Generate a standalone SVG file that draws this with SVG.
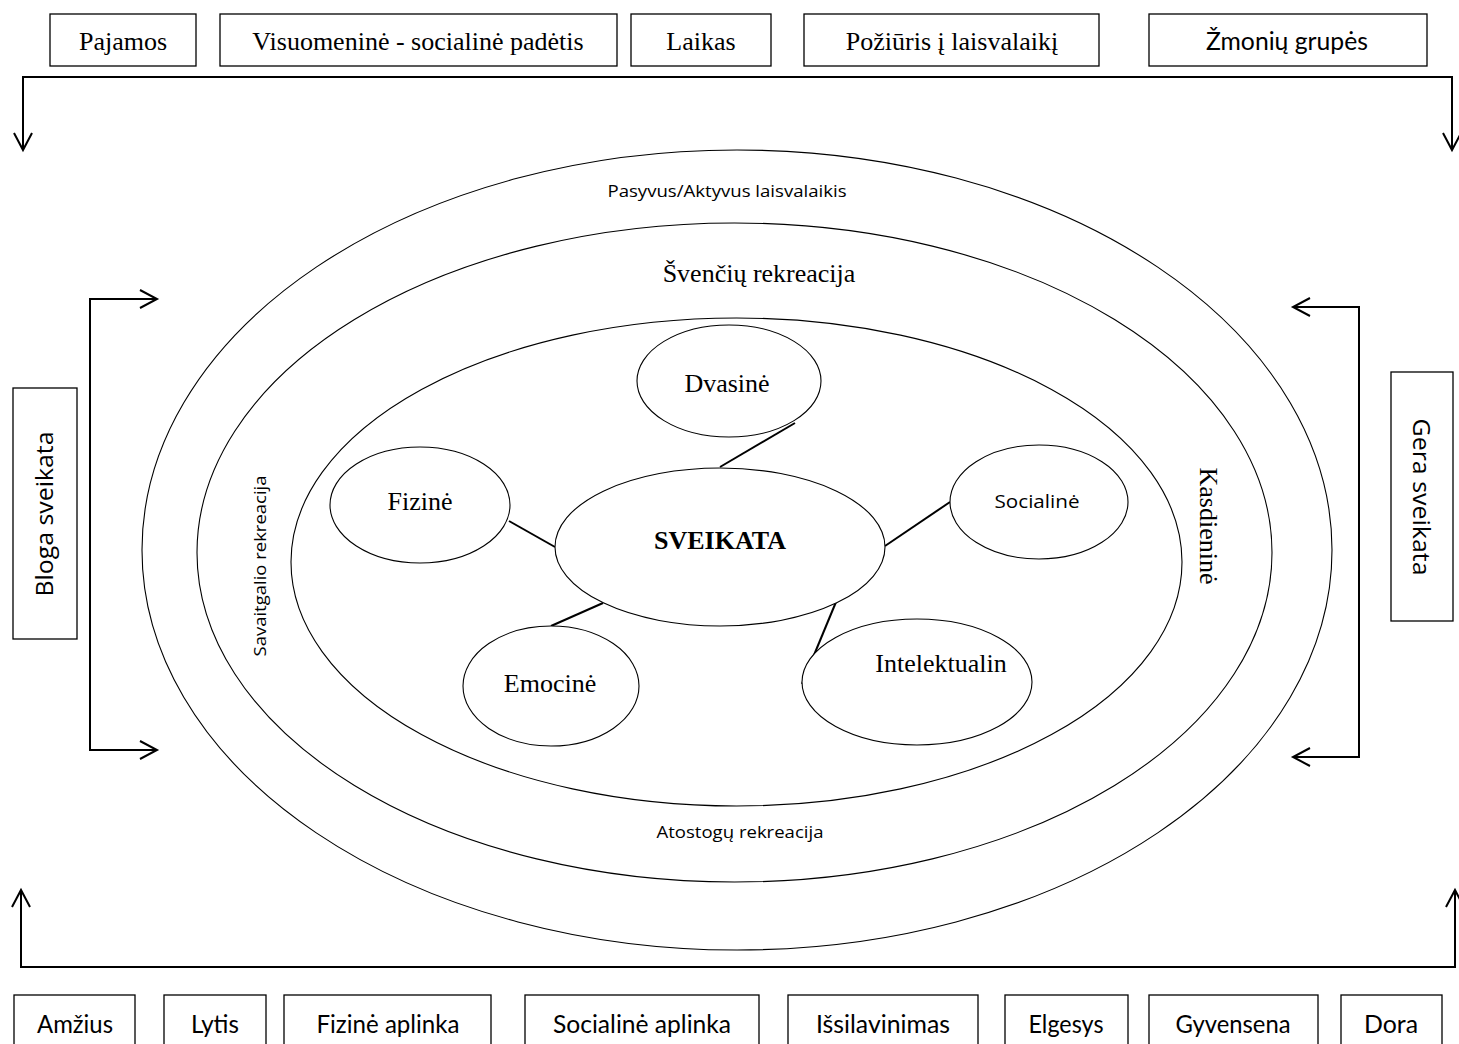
<svg xmlns="http://www.w3.org/2000/svg" width="1459" height="1044" viewBox="0 0 1459 1044">
  <style>
    .box { fill: #fff; stroke: #000; stroke-width: 1.3; }
    .ring { fill: none; stroke: #000; stroke-width: 1.1; }
    .bub { fill: #fff; stroke: #000; stroke-width: 1.1; }
    .flow { fill: none; stroke: #000; stroke-width: 2; }
    .link { stroke: #000; stroke-width: 2; }
    .tnr { font-family: "Liberation Serif", "Times New Roman", serif; font-size: 26px; fill: #000; text-anchor: middle; }
    .cal { font-family: Lato, "Liberation Sans", sans-serif; font-size: 25px; fill: #000; text-anchor: middle; }
    .seg { font-family: "Open Sans", "Liberation Sans", sans-serif; fill: #000; text-anchor: middle; }
  </style>
  <defs>
    <marker id="ah" viewBox="-19 -11 22 22" refX="0" refY="0" markerWidth="22" markerHeight="22" markerUnits="userSpaceOnUse" orient="auto-start-reverse">
      <path d="M-17,-9 L0,0 L-17,9" fill="none" stroke="#000" stroke-width="2"/>
    </marker>
  </defs>
  <rect width="1459" height="1044" fill="#fff"/>

  <!-- leisure rings -->
  <g id="ring-outer">
    <ellipse class="ring" cx="737" cy="550" rx="595" ry="400"/>
    <text class="seg" x="727" y="197" font-size="16" textLength="239" lengthAdjust="spacingAndGlyphs">Pasyvus/Aktyvus laisvalaikis</text>
  </g>
  <g id="ring-middle">
    <ellipse class="ring" cx="734.5" cy="552.5" rx="537.5" ry="329.5"/>
    <text class="tnr" x="759" y="282">Švenčių rekreacija</text>
    <text class="seg" x="740" y="838" font-size="17" textLength="167" lengthAdjust="spacingAndGlyphs">Atostogų rekreacija</text>
    <text class="seg" transform="translate(266,566) rotate(-90)" font-size="17" textLength="181" lengthAdjust="spacingAndGlyphs">Savaitgalio rekreacija</text>
  </g>
  <g id="ring-inner">
    <ellipse class="ring" cx="736.5" cy="562" rx="445.5" ry="244"/>
    <text class="tnr" transform="translate(1200,526) rotate(90)">Kasdieninė</text>
  </g>

  <!-- connectors -->
  <g id="connectors">
    <path class="flow" d="M23,150 V77 H1452 V150" marker-start="url(#ah)" marker-end="url(#ah)"/>
    <path class="flow" d="M21,890 V967 H1455 V890" marker-start="url(#ah)" marker-end="url(#ah)"/>
    <path class="flow" d="M157,299 H90 V750 H157" marker-start="url(#ah)" marker-end="url(#ah)"/>
    <path class="flow" d="M1293,307 H1359 V757 H1293" marker-start="url(#ah)" marker-end="url(#ah)"/>
    <line class="link" x1="795" y1="423" x2="720" y2="467"/>
    <line class="link" x1="509" y1="521" x2="555" y2="547"/>
    <line class="link" x1="603" y1="603" x2="551" y2="626"/>
    <line class="link" x1="885" y1="546" x2="950" y2="502"/>
    <line class="link" x1="836" y1="602" x2="802" y2="684"/>
  </g>

  <!-- health dimensions -->
  <g id="node-sveikata">
    <ellipse class="bub" cx="720" cy="547" rx="165" ry="79"/>
    <text class="tnr" x="720" y="549" font-weight="bold">SVEIKATA</text>
  </g>
  <g id="node-dvasine">
    <ellipse class="bub" cx="729" cy="381" rx="92" ry="56"/>
    <text class="tnr" x="727" y="392">Dvasinė</text>
  </g>
  <g id="node-fizine">
    <ellipse class="bub" cx="420" cy="505" rx="90" ry="58"/>
    <text class="tnr" x="420" y="510">Fizinė</text>
  </g>
  <g id="node-socialine">
    <ellipse class="bub" cx="1039" cy="502" rx="89" ry="57"/>
    <text class="seg" x="1037" y="508" font-size="19" textLength="85" lengthAdjust="spacingAndGlyphs">Socialinė</text>
  </g>
  <g id="node-emocine">
    <ellipse class="bub" cx="551" cy="686" rx="88" ry="60"/>
    <text class="tnr" x="550" y="692">Emocinė</text>
  </g>
  <g id="node-intelektualin">
    <ellipse class="bub" cx="917" cy="682" rx="115" ry="63"/>
    <text class="tnr" x="941" y="672">Intelektualin</text>
  </g>

  <!-- health state -->
  <g id="node-bloga">
    <rect class="box" x="13" y="388" width="64" height="251"/>
    <text class="seg" transform="translate(53,514) rotate(-90)" font-size="24" textLength="165" lengthAdjust="spacingAndGlyphs">Bloga sveikata</text>
  </g>
  <g id="node-gera">
    <rect class="box" x="1391" y="372" width="62" height="249"/>
    <text class="seg" transform="translate(1413,497) rotate(90)" font-size="24" textLength="157" lengthAdjust="spacingAndGlyphs">Gera sveikata</text>
  </g>

  <!-- upper factors -->
  <g id="node-pajamos">
    <rect class="box" x="50" y="14" width="146" height="52"/>
    <text class="tnr" x="123" y="50">Pajamos</text>
  </g>
  <g id="node-padetis">
    <rect class="box" x="220" y="14" width="397" height="52"/>
    <text class="tnr" x="418" y="50">Visuomeninė - socialinė padėtis</text>
  </g>
  <g id="node-laikas">
    <rect class="box" x="631" y="14" width="140" height="52"/>
    <text class="tnr" x="701" y="50">Laikas</text>
  </g>
  <g id="node-poziuris">
    <rect class="box" x="804" y="14" width="295" height="52"/>
    <text class="tnr" x="952" y="50">Požiūris į laisvalaikį</text>
  </g>
  <g id="node-grupes">
    <rect class="box" x="1149" y="14" width="278" height="52"/>
    <text class="cal" x="1287" y="50" textLength="162" lengthAdjust="spacingAndGlyphs">Žmonių grupės</text>
  </g>

  <!-- lower factors -->
  <g id="node-amzius">
    <rect class="box" x="14" y="995" width="121" height="60"/>
    <text class="cal" x="75" y="1033" textLength="76" lengthAdjust="spacingAndGlyphs">Amžius</text>
  </g>
  <g id="node-lytis">
    <rect class="box" x="164" y="995" width="102" height="60"/>
    <text class="cal" x="215" y="1033" textLength="48" lengthAdjust="spacingAndGlyphs">Lytis</text>
  </g>
  <g id="node-fizine-aplinka">
    <rect class="box" x="284" y="995" width="207" height="60"/>
    <text class="cal" x="388" y="1033" textLength="143" lengthAdjust="spacingAndGlyphs">Fizinė aplinka</text>
  </g>
  <g id="node-socialine-aplinka">
    <rect class="box" x="525" y="995" width="234" height="60"/>
    <text class="cal" x="642" y="1033" textLength="178" lengthAdjust="spacingAndGlyphs">Socialinė aplinka</text>
  </g>
  <g id="node-issilavinimas">
    <rect class="box" x="788" y="995" width="190" height="60"/>
    <text class="cal" x="883" y="1033" textLength="134" lengthAdjust="spacingAndGlyphs">Išsilavinimas</text>
  </g>
  <g id="node-elgesys">
    <rect class="box" x="1005" y="995" width="123" height="60"/>
    <text class="cal" x="1066" y="1033" textLength="75" lengthAdjust="spacingAndGlyphs">Elgesys</text>
  </g>
  <g id="node-gyvensena">
    <rect class="box" x="1149" y="995" width="169" height="60"/>
    <text class="cal" x="1233" y="1033" textLength="115" lengthAdjust="spacingAndGlyphs">Gyvensena</text>
  </g>
  <g id="node-dora">
    <rect class="box" x="1341" y="995" width="101" height="60"/>
    <text class="cal" x="1391" y="1033" textLength="54" lengthAdjust="spacingAndGlyphs">Dora</text>
  </g>
</svg>
